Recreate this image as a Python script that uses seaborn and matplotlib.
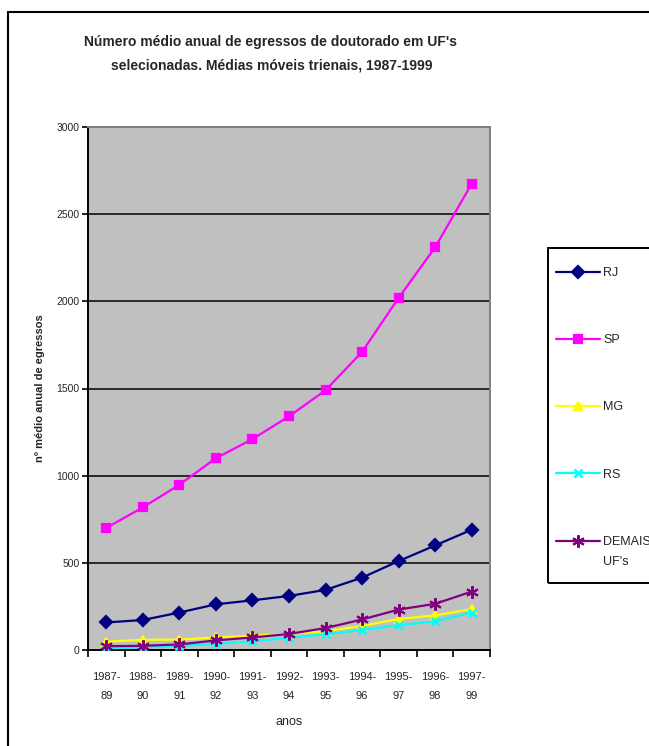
import matplotlib
matplotlib.use("Agg")
import matplotlib.pyplot as plt
from matplotlib.patches import Rectangle
import seaborn as sns
import pandas as pd

# Triennial moving averages of doctoral graduates per year
periodos = ["1987-\n89", "1988-\n90", "1989-\n91", "1990-\n92", "1991-\n93", "1992-\n94",
            "1993-\n95", "1994-\n96", "1995-\n97", "1996-\n98", "1997-\n99"]
rj = [158, 172, 215, 262, 285, 310, 345, 415, 510, 600, 690]
sp = [700, 818, 948, 1100, 1210, 1340, 1490, 1710, 2020, 2310, 2675]
mg = [48, 58, 60, 72, 82, 92, 108, 138, 178, 198, 235]
rs = [10, 14, 22, 35, 50, 70, 90, 115, 142, 165, 215]
demais = [22, 24, 32, 55, 72, 92, 126, 175, 232, 265, 335]

series = [
    ("RJ", rj, "#000080", "D", 8.5, 1.6),
    ("SP", sp, "#FF00FF", "s", 7.5, 1.6),
    ("MG", mg, "#FFFF00", "^", 8, 1.6),
    ("RS", rs, "#00FFFF", "x", 8.5, 1.8),
    ("DEMAIS", demais, "#800080", (6, 2, 0), 16, 1.5),
]

sns.set_theme(style="white")
plt.rcParams["font.family"] = ["Liberation Sans", "DejaVu Sans"]

W, H = 649, 746
fig = plt.figure(figsize=(W / 100, H / 100), dpi=100)
ax = fig.add_axes([88 / W, 1 - 650 / H, (490 - 88) / W, (650 - 127) / H])
ax.set_facecolor("#C0C0C0")

pos = list(range(len(periodos)))
for nome, vals, cor, mk, ms, mew in series:
    df = pd.DataFrame({"pos": pos, "valor": vals})
    sns.lineplot(data=df, x="pos", y="valor", ax=ax, color=cor, linewidth=1.6,
                 marker=mk, markersize=ms, markeredgecolor=cor, markerfacecolor=cor,
                 markeredgewidth=mew, label=nome, zorder=3)

ax.set_xlim(-0.5, len(periodos) - 0.5)
ax.set_ylim(0, 3000)
ax.set_yticks(range(0, 3001, 500))
ax.tick_params(axis="y", which="major", labelsize=7.5, length=4, width=1.2,
               color="black", direction="out", left=True, pad=2)
ax.grid(axis="y", color="black", linewidth=1.1)
ax.grid(axis="x", visible=False)
ax.set_axisbelow(True)

# x: ticks between categories, labels centered on each category
ax.set_xticks([p - 0.5 for p in pos] + [len(pos) - 0.5])
ax.set_xticklabels([])
ax.set_xticks(pos, minor=True)
ax.set_xticklabels(periodos, minor=True, fontsize=8, linespacing=2.1)
ax.tick_params(axis="x", which="major", length=5, width=1.2, color="black",
               direction="out", bottom=True)
ax.tick_params(axis="x", which="minor", length=0, pad=16)

for s in ("left", "bottom"):
    ax.spines[s].set_color("black")
    ax.spines[s].set_linewidth(1.4)
for s in ("top", "right"):
    ax.spines[s].set_color("#808080")
    ax.spines[s].set_linewidth(1.4)

ax.set_xlabel("anos", fontsize=9, labelpad=11)
ax.set_ylabel("nº médio anual de egressos", fontsize=8, fontweight="bold", labelpad=8)

fig.text(271 / W, 1 - 42 / H, "Número médio anual de egressos de doutorado em UF's",
         ha="center", va="center", fontsize=10, fontweight="bold")
fig.text(272 / W, 1 - 65 / H, "selecionadas. Médias móveis trienais, 1987-1999",
         ha="center", va="center", fontsize=10, fontweight="bold")

# legend: entries without own frame, boxed by a separate rectangle
handles, labels = ax.get_legend_handles_labels()
for h in handles:
    h.set_markersize(6)
handles[-1].set_markersize(9)
leg = ax.legend(handles, labels, loc="upper left", bbox_to_anchor=(556 / W, 1 - 267 / H),
                bbox_transform=fig.transFigure, frameon=False,
                fontsize=9, handlelength=3.5, handletextpad=0.3, labelspacing=4.42,
                borderpad=0, borderaxespad=0)
ax.annotate("UF's", xy=(0, 0), xycoords=leg.get_texts()[-1], xytext=(0, -20),
            textcoords="offset pixels", ha="left", va="bottom", fontsize=9,
            annotation_clip=False, zorder=10)
fig.patches.append(Rectangle((548 / W, 1 - 583 / H), 0.5, (583 - 248) / H,
                             transform=fig.transFigure, fill=False,
                             edgecolor="black", linewidth=1.4))

# outer chart frame
fig.patches.append(Rectangle((8 / W, -0.2), 1.5, 1.2 - 12 / H, transform=fig.transFigure,
                             fill=False, edgecolor="black", linewidth=1.5))

fig.savefig("out.png", dpi=100)
